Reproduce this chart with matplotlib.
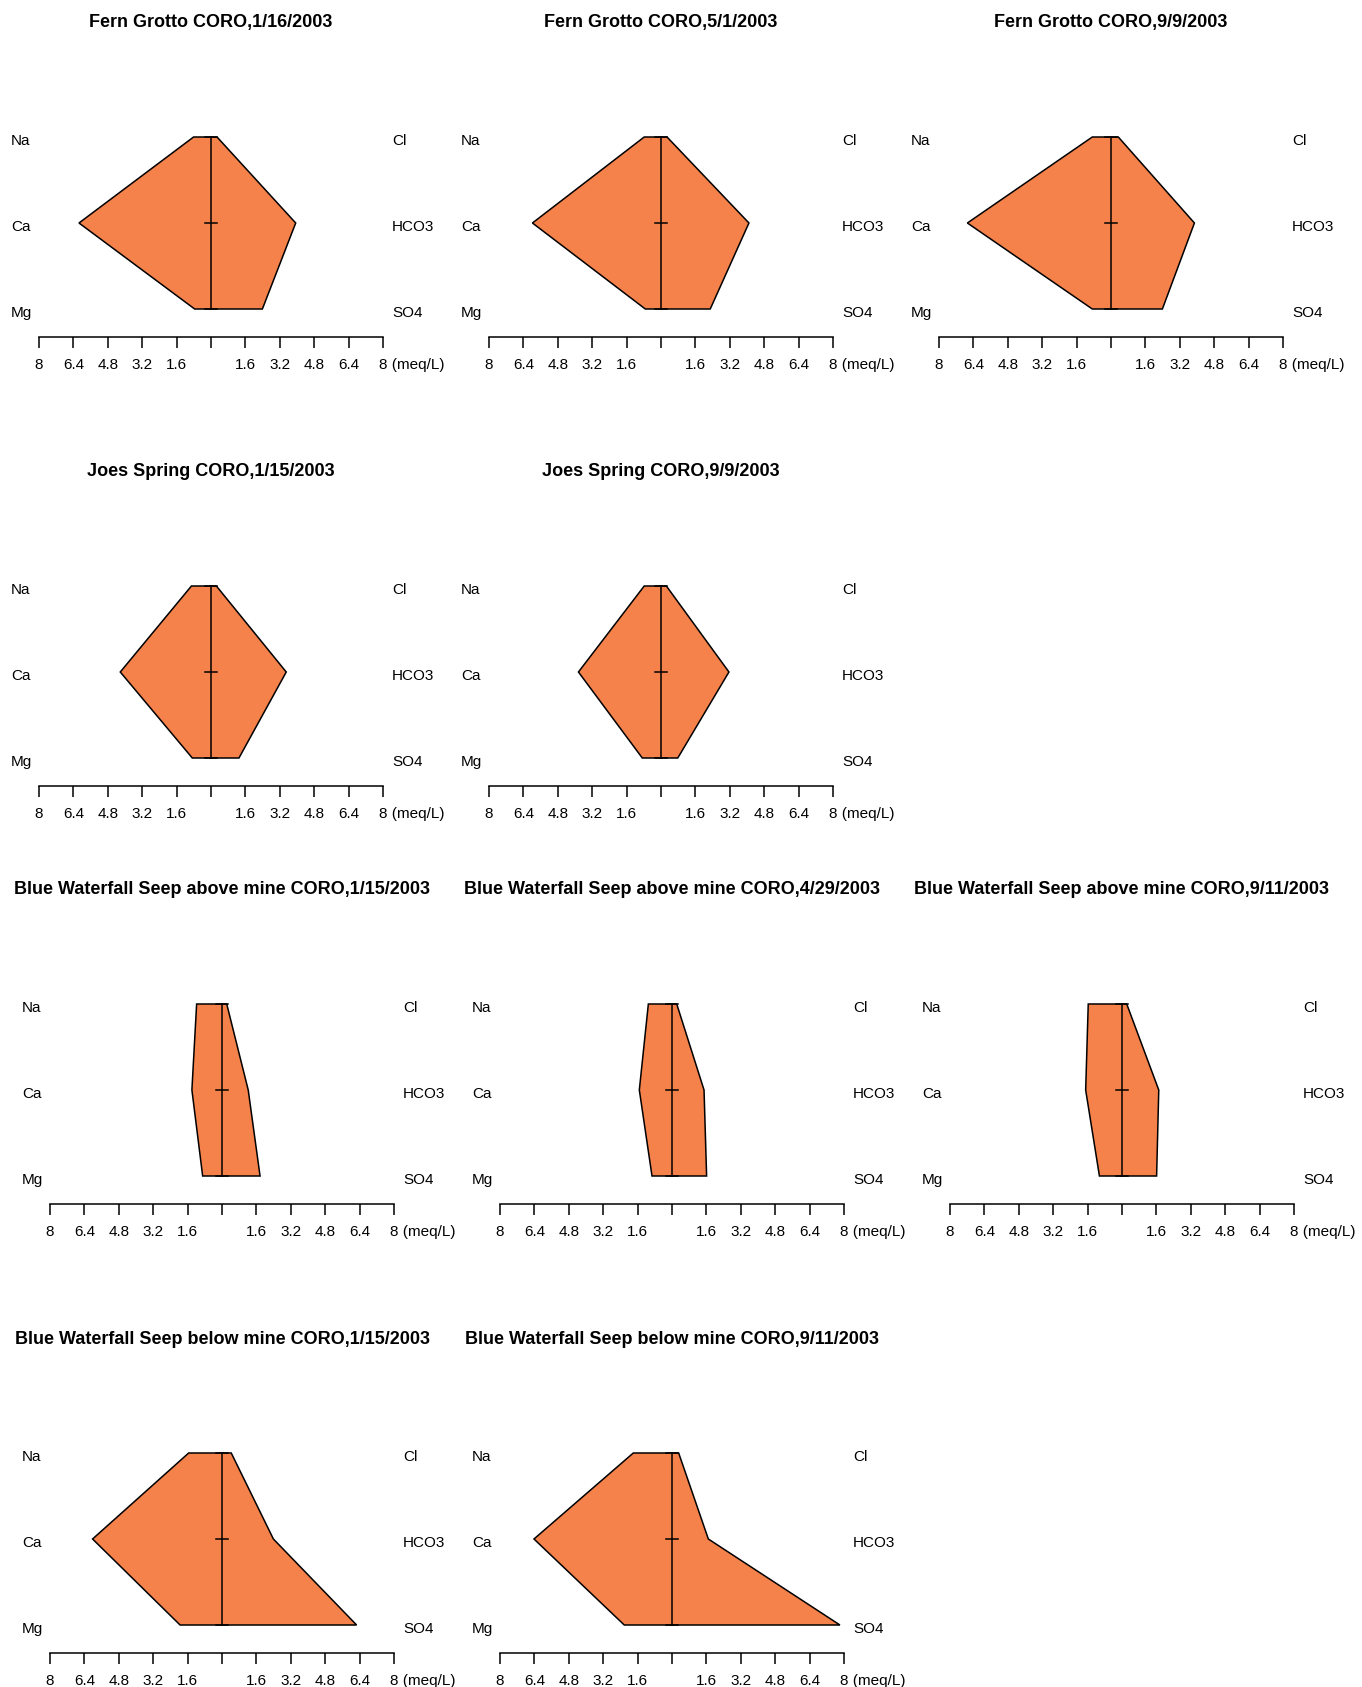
import matplotlib
matplotlib.use('Agg')
import matplotlib.pyplot as plt
import matplotlib.transforms as mtransforms

plt.rcParams['font.family'] = ['Liberation Sans', 'DejaVu Sans']

# ==== data (meq/L) ====
TITLES = [
    'Fern Grotto CORO,1/16/2003',
    'Fern Grotto CORO,5/1/2003',
    'Fern Grotto CORO,9/9/2003',
    'Joes Spring CORO,1/15/2003',
    'Joes Spring CORO,9/9/2003',
    'Blue Waterfall Seep above mine CORO,1/15/2003',
    'Blue Waterfall Seep above mine CORO,4/29/2003',
    'Blue Waterfall Seep above mine CORO,9/11/2003',
    'Blue Waterfall Seep below mine CORO,1/15/2003',
    'Blue Waterfall Seep below mine CORO,9/11/2003',
]
NA = [0.81, 0.78, 0.87, 0.91, 0.78, 1.18, 1.10, 1.57, 1.55, 1.80]
CA = [6.14, 5.98, 6.68, 4.22, 3.84, 1.40, 1.52, 1.69, 6.02, 6.42]
MG = [0.76, 0.73, 0.87, 0.87, 0.87, 0.90, 0.93, 1.05, 1.95, 2.22]
CL = [0.28, 0.28, 0.34, 0.25, 0.25, 0.22, 0.22, 0.22, 0.43, 0.31]
HCO3 = [3.94, 4.09, 3.88, 3.50, 3.16, 1.22, 1.49, 1.71, 2.39, 1.69]
SO4 = [2.39, 2.29, 2.39, 1.30, 0.78, 1.77, 1.61, 1.61, 6.26, 7.81]

CATIONS = ['Na', 'Ca', 'Mg']
ANIONS = ['Cl', 'HCO3', 'SO4']
TICKS = [-8, -6.4, -4.8, -3.2, -1.6, 0, 1.6, 3.2, 4.8, 6.4, 8]
TICK_LABELS = ['8', '6.4', '4.8', '3.2', '1.6', '', '1.6', '3.2', '4.8', '6.4', '8']

# grid slot (row, col) of each panel
SLOTS = [(0, 0), (0, 1), (0, 2), (1, 0), (1, 1),
         (2, 0), (2, 1), (2, 2), (3, 0), (3, 1)]

W, H = 1362, 1687
NA_Y = [137, 586, 1004, 1453]          # pixel row of the Na level per grid row
AX_X0 = [[39, 489, 939], [39, 489, 939], [50, 500, 950], [50, 500, 950]]
AX_W = 344
STEP = 86                              # px between ion levels
FILL = '#f5824a'


def shifted(ax, dx, dy):
    return mtransforms.offset_copy(ax.transData, fig=ax.figure, x=dx, y=dy, units='dots')


fig = plt.figure(figsize=(W / 100, H / 100), dpi=100)

for i, (r, c) in enumerate(SLOTS):
    x0 = AX_X0[r][c]
    na_y = NA_Y[r]
    axis_y = na_y + 2 * STEP + 28
    top_y = na_y - 20
    ax = fig.add_axes([x0 / W, 1 - axis_y / H, AX_W / W, (axis_y - top_y) / H])
    ax.set_xlim(-8, 8)
    y_axis = -28 / STEP
    ax.set_ylim(y_axis, 2 + 20 / STEP)

    xs = [-NA[i], -CA[i], -MG[i], SO4[i], HCO3[i], CL[i]]
    ys = [2, 1, 0, 0, 1, 2]
    ax.fill(xs, ys, facecolor=FILL, edgecolor='black', linewidth=1.1, zorder=2)

    # centre line with small cross ticks
    ax.plot([0, 0], [0, 2], color='black', linewidth=1.1, zorder=3)
    for lvl in [0, 1, 2]:
        ax.plot([-0.28, 0.28], [lvl, lvl], color='black', linewidth=1.1, zorder=3)

    for s in ['top', 'left', 'right']:
        ax.spines[s].set_visible(False)
    ax.spines['bottom'].set_linewidth(1.1)
    ax.set_yticks([])
    ax.set_xticks(TICKS)
    ax.set_xticklabels([])
    ax.tick_params(axis='x', direction='out', length=8, width=1.1)

    for t, lbl in zip(TICKS, TICK_LABELS):
        if t == 8:
            ax.text(t, y_axis, lbl + ' (meq/L)', fontsize=11, ha='left', va='center',
                    transform=shifted(ax, -4, -28))
        elif lbl:
            ax.text(t, y_axis, lbl, fontsize=11, ha='center', va='center',
                    transform=shifted(ax, 0, -28))

    for k, lbl in enumerate(CATIONS):
        ax.text(-8, 2 - k, lbl, fontsize=11, ha='left', va='center',
                transform=shifted(ax, -28, -4))
    for k, lbl in enumerate(ANIONS):
        ax.text(8, 2 - k, lbl, fontsize=11, ha='left', va='center',
                transform=shifted(ax, 9, -4))

    ax.text(0, 2, TITLES[i], fontsize=13, fontweight='bold', ha='center', va='center',
            transform=shifted(ax, 0, 114))

fig.savefig('out.png', dpi=100, facecolor='white')
